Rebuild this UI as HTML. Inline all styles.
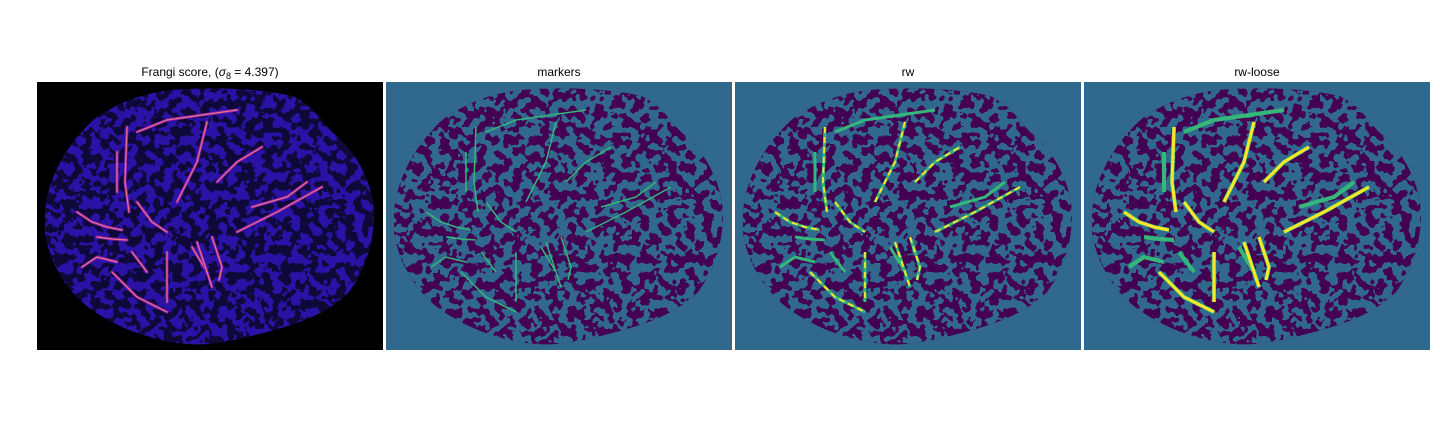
<!DOCTYPE html>
<html><head><meta charset="utf-8"><style>
body{margin:0;background:#fff;width:1440px;height:432px;overflow:hidden}
svg{display:block}
text{font-family:"Liberation Sans",sans-serif;font-size:12px}
</style></head><body>
<svg id="fig" width="1440" height="432">
<defs>
<filter id="tex" x="0" y="0" width="100%" height="100%" color-interpolation-filters="sRGB">
<feTurbulence type="fractalNoise" baseFrequency="0.11" numOctaves="2" seed="7"/>
<feColorMatrix type="matrix" values="0 0 0 0 0.192  0 0 0 0 0.408  0 0 0 0 0.557  1 0 0 0 0"/>
<feComponentTransfer><feFuncA type="discrete" tableValues="0 0 0 1 1 1"/></feComponentTransfer>
</filter>
<filter id="tex1" x="0" y="0" width="100%" height="100%" color-interpolation-filters="sRGB">
<feTurbulence type="fractalNoise" baseFrequency="0.11" numOctaves="2" seed="7"/>
<feColorMatrix type="matrix" values="0 0 0 0 0.05  0 0 0 0 0.03  0 0 0 0 0.2  1 0 0 0 0"/>
<feComponentTransfer><feFuncA type="discrete" tableValues="0 0 0 0.95 0.95 0.95"/></feComponentTransfer>
</filter>
<clipPath id="blob"><path id="blobpath" d="M8,135 C8,100 30,60 60,35 C90,15 120,8 150,7 C190,5 230,8 255,14 C275,22 285,40 295,50 C320,70 335,100 337,130 C337,160 330,185 312,210 C290,232 260,242 230,250 C200,258 175,264 150,262 C110,258 80,245 55,228 C30,210 12,180 8,150 Z"/></clipPath>
</defs>
<g id="panels"></g>
</svg>
<script>
const panelX=[37,386,735,1084];
const titles=["Frangi score, (σ","markers","rw","rw-loose"];
// vessel polylines (local coords within panel)
const vessels=[
[[40,130],[55,140],[70,145],[85,148]],
[[60,155],[75,157],[90,158]],
[[100,120],[115,140],[130,150]],
[[90,45],[88,100],[92,130]],
[[80,70],[80,110]],
[[170,40],[160,80],[140,120]],
[[100,50],[130,38],[200,28]],
[[180,100],[200,80],[225,65]],
[[200,150],[240,130],[285,105]],
[[215,125],[250,115],[270,100]],
[[175,155],[185,185],[182,198]],
[[75,190],[100,215],[130,230]],
[[95,170],[110,190]],
[[155,165],[170,190]],
[[130,170],[130,220]],
[[45,185],[60,175],[80,180]],
[[160,160],[175,205]]
];
const yellowIdx=[0,2,3,5,7,8,10,11,14,16];
const NS="http://www.w3.org/2000/svg";
const root=document.getElementById('panels');
function mk(t,a,p){const e=document.createElementNS(NS,t);for(const k in a)e.setAttribute(k,a[k]);p.appendChild(e);return e;}
function pts(v){return v.map(p=>p.join(',')).join(' ');}
panelX.forEach((px,i)=>{
 const g=mk('g',{transform:`translate(${px},82)`},root);
 
 
 mk('rect',{x:0,y:0,width:346,height:268,fill:i===0?'#000':'#31688e'},g);
 const b=mk('g',{'clip-path':'url(#blob)'},g);
 
 
 mk('rect',{x:0,y:0,width:346,height:268,fill:i===0?'#2b12a6':'#440154'},b);
 mk('rect',{x:0,y:0,width:346,height:268,filter:i===0?'url(#tex1)':'url(#tex)'},b);
 vessels.forEach((v,j)=>{
  if(i===0){
   mk('polyline',{points:pts(v),fill:'none',stroke:'#8a1fa8',"stroke-width":3,"stroke-linecap":"round"},b);
   mk('polyline',{points:pts(v),fill:'none',stroke:'#e8708a',"stroke-width":1.2,"stroke-linecap":"round"},b);
  }else if(i===1){
   mk('polyline',{points:pts(v),fill:'none',stroke:'#35b779',"stroke-width":1.5},b);
  }else{
   const y=yellowIdx.includes(j);
   const w=i===3?3:1.8;
   mk('polyline',{points:pts(v),fill:'none',stroke:'#35b779',"stroke-width":w+1.2},b);
   if(y) mk('polyline',{points:pts(v),fill:'none',stroke:'#fde725',"stroke-width":w,"stroke-dasharray":i===3?'none':'6 4'},b);
  }
 });
 const t=mk('text',{x:173,y:-6,"text-anchor":"middle",fill:'#000'},g);
 
 
 if(i===0){t.innerHTML='Frangi score, (<tspan font-style="italic">σ</tspan><tspan font-size="9" dy="3">8</tspan><tspan dy="-3"> = 4.397)</tspan>';}
 else t.textContent=titles[i];
});
</script>
</body></html>
